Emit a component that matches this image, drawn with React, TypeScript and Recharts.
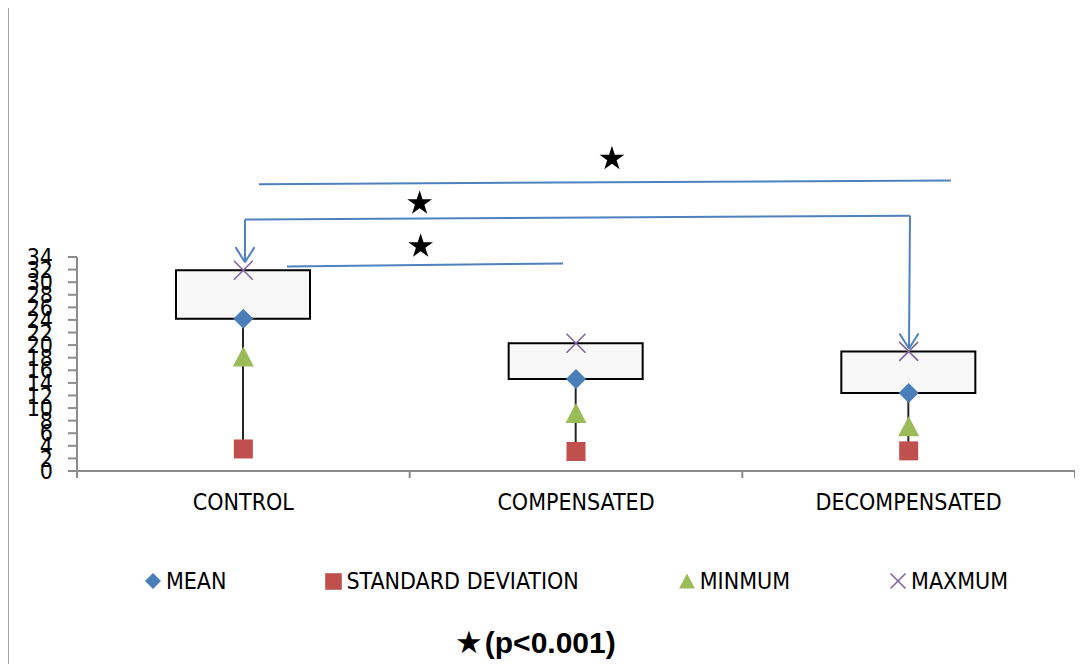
import React from 'react';
import {
  ComposedChart,
  Bar,
  Scatter,
  XAxis,
  YAxis,
  ReferenceLine,
  ReferenceDot,
  Legend,
} from 'recharts';

// ---------- data ----------
const categories = ['CONTROL', 'COMPENSATED', 'DECOMPENSATED'];
const meanValues = [24.2, 14.6, 12.4];
const sdValues = [3.5, 3.1, 3.2];
const minValues = [18.2, 9.2, 7.1];
const maxValues = [31.9, 20.3, 19.0];
const seriesNames = ['MEAN', 'STANDARD DEVIATION', 'MINMUM', 'MAXMUM'];
const yTicks = [0, 2, 4, 6, 8, 10, 12, 14, 16, 18, 20, 22, 24, 26, 28, 30, 32, 34];
const xTicks = [-0.5, 0, 0.5, 1, 1.5, 2, 2.5];
const titleText = '(p<0.001)';

// significance annotations in data units: [categoryIndex, value]
const bracketSegments: [number, number][][] = [
  [[0.047, 45.57], [2.127, 46.16]],
  [[0.005, 39.96], [2.004, 40.55]],
  [[0.005, 39.96], [0.005, 33.17]],
  [[2.004, 40.55], [2.001, 19.46]],
  [[0.131, 32.49], [0.961, 32.97]],
];
const arrowTips: [number, number][] = [
  [0.005, 33.17],
  [2.001, 19.46],
];
const starPoints: [number, number][] = [
  [1.108, 49.6],
  [0.53, 42.55],
  [0.533, 35.7],
];

const rows = categories.map((name, i) => ({
  idx: i,
  name,
  mean: meanValues[i],
  sd: sdValues[i],
  min: minValues[i],
  max: maxValues[i],
}));

// ---------- styles ----------
const W = 1075;
const H = 656;
const NARROW = '"Liberation Sans Narrow", "Arial Narrow", "DejaVu Sans Condensed", sans-serif';
const AXIS = '#8c8c8c';
const BLUE = '#4a7ebb';
const RED = '#c0504d';
const GREEN = '#9bbb59';
const PURPLE = '#8064a2';
const ANNOT = '#4f81bd';

const Diamond = ({ cx, cy, r = 10 }: any) => (
  <polygon points={`${cx},${cy - r} ${cx + r},${cy} ${cx},${cy + r} ${cx - r},${cy}`} fill={BLUE} />
);
const Square = ({ cx, cy, r = 9.5 }: any) => (
  <rect x={cx - r} y={cy - r} width={2 * r} height={2 * r} fill={RED} />
);
const Triangle = ({ cx, cy, r = 10 }: any) => (
  <polygon points={`${cx},${cy - r} ${cx + r * 1.05},${cy + r} ${cx - r * 1.05},${cy + r}`} fill={GREEN} />
);
const Cross = ({ cx, cy, r = 9.5 }: any) => (
  <g stroke={PURPLE} strokeWidth={1.6}>
    <line x1={cx - r} y1={cy - r} x2={cx + r} y2={cy + r} />
    <line x1={cx - r} y1={cy + r} x2={cx + r} y2={cy - r} />
  </g>
);
const Star = ({ cx, cy, R = 13 }: any) => {
  const pts: string[] = [];
  const rIn = R * 0.382;
  for (let k = 0; k < 10; k++) {
    const rad = k % 2 === 0 ? R : rIn;
    const a = -Math.PI / 2 + (k * Math.PI) / 5;
    pts.push(`${cx + rad * Math.cos(a)},${cy + rad * Math.sin(a)}`);
  }
  return <polygon points={pts.join(' ')} fill="#000" />;
};

const XTick = (props: any) => {
  const { x, y, payload } = props;
  const v = payload.value;
  if (Number.isInteger(v)) {
    return (
      <text x={x} y={y + 32} textAnchor="middle" fontFamily={NARROW} fontSize={23} fill="#000">
        {categories[v]}
      </text>
    );
  }
  return <line x1={x} x2={x} y1={y - 7} y2={y} stroke={AXIS} strokeWidth={2} />;
};

const legendIcons = [
  <svg width={18} height={18} key="d"><Diamond cx={9} cy={9} r={8} /></svg>,
  <svg width={17} height={17} key="s"><Square cx={8.5} cy={8.5} r={8.3} /></svg>,
  <svg width={18} height={16} key="t"><Triangle cx={9} cy={8} r={7.6} /></svg>,
  <svg width={18} height={18} key="c"><Cross cx={9} cy={9} r={7.5} /></svg>,
];

const LegendContent = () => (
  <div
    style={{
      display: 'flex',
      justifyContent: 'center',
      alignItems: 'center',
      gap: 99,
      fontFamily: NARROW,
      fontSize: 23,
      lineHeight: '24px',
      color: '#000',
      whiteSpace: 'nowrap',
    }}
  >
    {seriesNames.map((n, i) => (
      <div key={n} style={{ display: 'flex', alignItems: 'center', gap: 4 }}>
        {legendIcons[i]}
        <span>{n}</span>
      </div>
    ))}
  </div>
);

export default function App() {
  return (
    <div style={{ position: 'relative', width: W, height: H, background: '#fff' }}>
      <div style={{ position: 'absolute', left: -1, top: -1, width: W + 8, height: 1, background: '#a0a0a0' }} />
      <div style={{ position: 'absolute', left: -1, top: -1, width: 2, height: H + 8, background: '#a0a0a0' }} />
      <ComposedChart width={W} height={H} data={rows} margin={{ top: 249, right: 8, bottom: 133, left: 0 }}>
        <XAxis
          xAxisId="a"
          type="number"
          dataKey="idx"
          domain={[-0.5, 2.5]}
          ticks={xTicks}
          interval={0}
          tickLine={false}
          tickSize={7}
          tickMargin={0}
          height={60}
          axisLine={{ stroke: AXIS, strokeWidth: 2 }}
          tick={(p: any) => <XTick {...p} />}
          allowDataOverflow
        />
        <XAxis xAxisId="b" type="number" dataKey="idx" domain={[-0.5, 2.5]} hide height={0} allowDataOverflow />
        <XAxis xAxisId="w" type="number" dataKey="idx" domain={[-0.5, 2.5]} hide height={0} allowDataOverflow />
        <YAxis
          yAxisId="y"
          type="number"
          domain={[0, 34]}
          ticks={yTicks}
          interval={0}
          width={69}
          tickSize={9}
          tickMargin={15}
          axisLine={{ stroke: AXIS, strokeWidth: 2 }}
          tickLine={{ stroke: AXIS, strokeWidth: 2 }}
          tick={{ fontFamily: NARROW, fontSize: 23, fill: '#000' }}
          allowDataOverflow
        />
        <Bar
          xAxisId="w"
          yAxisId="y"
          dataKey={(d: any) => [d.sd, d.max]}
          barSize={2}
          fill="#262626"
          isAnimationActive={false}
          legendType="none"
        />
        <Bar
          xAxisId="b"
          yAxisId="y"
          dataKey={(d: any) => [d.mean, d.max]}
          barSize={134}
          fill="#f8f8f8"
          stroke="#000"
          strokeWidth={2}
          isAnimationActive={false}
          legendType="none"
        />
        <Scatter xAxisId="a" yAxisId="y" dataKey="sd" name={seriesNames[1]} shape={(p: any) => <Square cx={p.cx} cy={p.cy} />} isAnimationActive={false} />
        <Scatter xAxisId="a" yAxisId="y" dataKey="min" name={seriesNames[2]} shape={(p: any) => <Triangle cx={p.cx} cy={p.cy} />} isAnimationActive={false} />
        <Scatter xAxisId="a" yAxisId="y" dataKey="mean" name={seriesNames[0]} shape={(p: any) => <Diamond cx={p.cx} cy={p.cy} />} isAnimationActive={false} />
        <Scatter xAxisId="a" yAxisId="y" dataKey="max" name={seriesNames[3]} shape={(p: any) => <Cross cx={p.cx} cy={p.cy} />} isAnimationActive={false} />
        {bracketSegments.map((s, i) => (
          <ReferenceLine
            key={`seg${i}`}
            xAxisId="a"
            yAxisId="y"
            segment={[{ x: s[0][0], y: s[0][1] }, { x: s[1][0], y: s[1][1] }]}
            stroke={ANNOT}
            strokeWidth={2}
            ifOverflow="visible"
          />
        ))}
        {arrowTips.map((t, i) =>
          [-1, 1].map((side) => (
            <ReferenceLine
              key={`arr${i}${side}`}
              xAxisId="a"
              yAxisId="y"
              segment={[{ x: t[0] + side * 0.0286, y: t[1] + 2.4 }, { x: t[0], y: t[1] }]}
              stroke={ANNOT}
              strokeWidth={2}
              ifOverflow="visible"
            />
          ))
        )}
        {starPoints.map((s, i) => (
          <ReferenceDot
            key={`star${i}`}
            xAxisId="a"
            yAxisId="y"
            x={s[0]}
            y={s[1]}
            ifOverflow="visible"
            shape={(p: any) => <Star cx={p.cx} cy={p.cy} />}
          />
        ))}
        <Legend
          layout="horizontal"
          verticalAlign="middle"
          align="center"
          wrapperStyle={{ left: 69, top: 561, width: 998 }}
          content={() => <LegendContent />}
        />
      </ComposedChart>
      <div
        style={{
          position: 'absolute',
          left: 447,
          top: 618,
          fontFamily: '"Liberation Sans", Arial, sans-serif',
          fontWeight: 'bold',
          fontSize: 30,
          lineHeight: '32px',
          color: '#000',
          whiteSpace: 'nowrap',
        }}
      >
        <span style={{ fontFamily: '"DejaVu Sans", sans-serif', fontSize: 31, marginRight: 2 }}>★</span>
        {titleText}
      </div>
    </div>
  );
}
